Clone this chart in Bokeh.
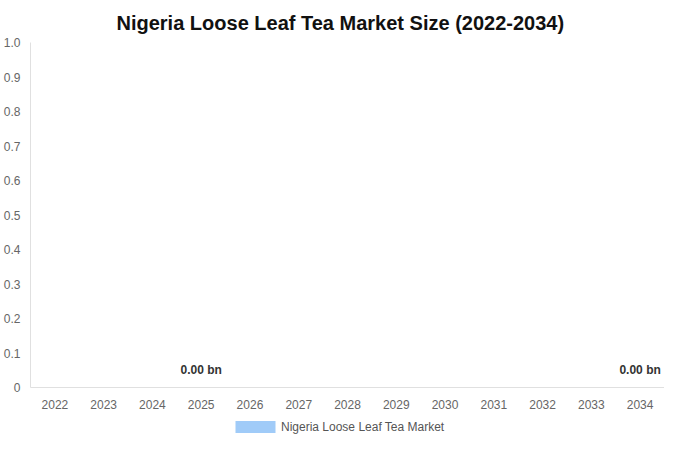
from bokeh.plotting import figure
from bokeh.layouts import column
from bokeh.models import ColumnDataSource, FixedTicker, Legend, LegendItem, LabelSet, Range1d
from bokeh.core.properties import value
from bokeh.embed import file_html
from bokeh.resources import INLINE

years = ["2022", "2023", "2024", "2025", "2026", "2027", "2028", "2029", "2030", "2031", "2032", "2033", "2034"]
market_size = [0.0, 0.0, 0.0, 0.0, 0.0, 0.0, 0.0, 0.0, 0.0, 0.0, 0.0, 0.0, 0.0]
label_years = ["2025", "2034"]
label_values = [0.0, 0.0]
label_texts = ["0.00 bn", "0.00 bn"]
y_ticks = [0, 0.1, 0.2, 0.3, 0.4, 0.5, 0.6, 0.7, 0.8, 0.9, 1.0]
y_tick_labels = ["0", "0.1", "0.2", "0.3", "0.4", "0.5", "0.6", "0.7", "0.8", "0.9", "1.0"]
series_name = "Nigeria Loose Leaf Tea Market"

FONT = "Liberation Sans"
BAR_COLOR = "#a0cbf8"

p = figure(x_range=years, y_range=Range1d(0, 1.0), width=664, height=418,
           output_backend="svg", toolbar_location=None,
           title="Nigeria Loose Leaf Tea Market Size (2022-2034)")
p.min_border_left = 30
p.min_border_right = 0
p.min_border_top = 42
p.min_border_bottom = 31
p.outline_line_color = None
p.background_fill_color = "white"
p.border_fill_color = "white"

p.title.align = "left"
p.title.offset = 86
p.title.text_font = FONT
p.title.text_font_size = "20px"
p.title.text_font_style = "bold"
p.title.text_color = "#111111"
p.title.standoff = 18

src = ColumnDataSource(dict(year=years, value=market_size))
r = p.vbar(x="year", top="value", width=0.8, source=src, fill_color=BAR_COLOR, line_color=None)

lsrc = ColumnDataSource(dict(year=label_years, value=label_values, text=label_texts))
labels = LabelSet(x="year", y="value", text="text", source=lsrc, y_offset=11,
                  text_align="center", text_baseline="bottom", text_font=value(FONT),
                  text_font_size="12px", text_font_style="bold", text_color="#333333")
p.add_layout(labels)

p.xgrid.visible = False
p.ygrid.visible = False

for ax in (p.xaxis[0], p.yaxis[0]):
    ax.axis_line_color = "#e0e0e0"
    ax.major_tick_line_color = None
    ax.minor_tick_line_color = None
    ax.major_tick_out = 0
    ax.major_tick_in = 0
    ax.major_label_text_font = FONT
    ax.major_label_text_font_size = "12px"
    ax.major_label_text_color = "#666666"

p.yaxis[0].ticker = FixedTicker(ticks=y_ticks)
p.yaxis[0].major_label_overrides = {t: l for t, l in zip(y_ticks, y_tick_labels)}
p.yaxis[0].major_label_standoff = 10
p.xaxis[0].major_label_standoff = 12

# legend strip below the chart
p2 = figure(x_range=years, y_range=Range1d(0, 1.0), width=664, height=16,
            output_backend="svg", toolbar_location=None,
            x_axis_type=None, y_axis_type=None)
p2.min_border_left = 0
p2.min_border_right = 0
p2.min_border_top = 0
p2.min_border_bottom = 0
p2.outline_line_color = None
p2.xgrid.visible = False
p2.ygrid.visible = False
r2 = p2.vbar(x="year", top="value", width=0.8, source=src, fill_color=BAR_COLOR, line_color=None)

legend = Legend(items=[LegendItem(label=series_name, renderers=[r2])],
                orientation="horizontal", location=(200, 0),
                label_text_font=FONT, label_text_font_size="12px", label_text_color="#555555",
                glyph_width=50, glyph_height=15, border_line_color=None,
                background_fill_alpha=0, margin=0, padding=0, spacing=6,
                label_standoff=1, label_height=12)
p2.add_layout(legend)

layout = column(p, p2, spacing=0)
open("out.html", "w").write(file_html(layout, INLINE))
